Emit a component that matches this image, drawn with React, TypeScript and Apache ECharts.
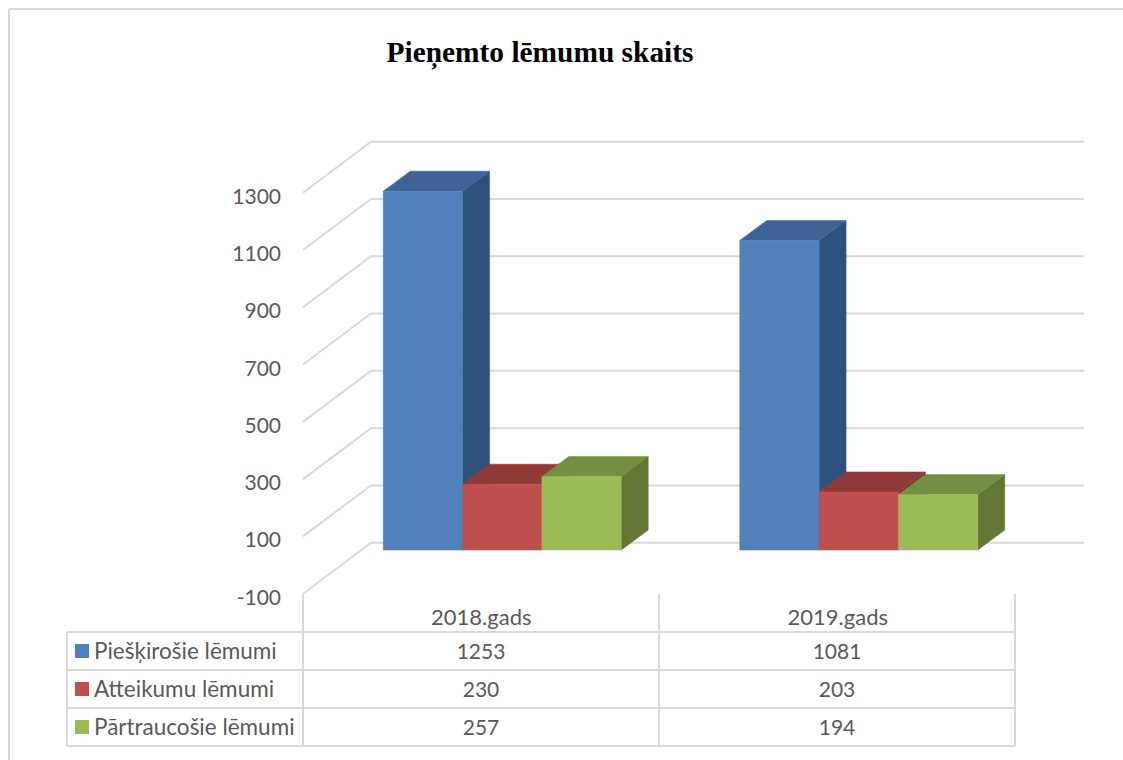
import React, { useEffect, useRef } from "react";
import * as echarts from "echarts";

const titleText = "Pieņemto lēmumu skaits";
const categories = ["2018.gads", "2019.gads"];
const yTicks = [-100, 100, 300, 500, 700, 900, 1100, 1300];
const seriesNames = ["Piešķirošie lēmumi", "Atteikumu lēmumi", "Pārtraucošie lēmumi"];
const granted = [1253, 1081];
const refused = [230, 203];
const stopped = [257, 194];
const seriesValues = [granted, refused, stopped];
const frontColors = ["#4f81bd", "#c0504d", "#9bbb59"];
const topColors = ["#3d6494", "#8f3a38", "#748f44"];
const sideColors = ["#30527a", "#7f3230", "#637634"];

const FONT = "Lato";
const GREY = "#d9d9d9";
const TEXT = "#595959";
const WALL_DX = 68;
const WALL_DY = -51;
const BAR_OFF_X = 21;
const BAR_OFF_Y = -15;
const BAR_DX = 27;
const BAR_DY = -20;
const BAR_W_RATIO = 0.2225;

const GRID_LEFT = 303;
const GRID_WIDTH = 713;
const GRID_RIGHT = 1015;
const GRID_TOP = 192.7;
const GRID_BOTTOM = 593.7;
const COL_MID = 659;
const ROW_YS = [632, 670, 708, 746];
const TABLE_LEFT = 67;

function line(x1: number, y1: number, x2: number, y2: number) {
  return {
    type: "line",
    silent: true,
    shape: { x1, y1, x2, y2 },
    style: { stroke: GREY, lineWidth: 2 },
  };
}

function tableText(text: string, x: number, y: number, align: string, size: number) {
  return {
    type: "text",
    silent: true,
    x,
    y,
    style: { text, fill: TEXT, font: `${size}px ${FONT}`, textAlign: align, textVerticalAlign: "middle" },
  };
}

function buildGraphic() {
  const els: any[] = [
    line(9, 9, 1123, 9),
    line(9, 9, 9, 760),
    line(GRID_LEFT, GRID_BOTTOM, GRID_LEFT, ROW_YS[3]),
    line(COL_MID, GRID_BOTTOM, COL_MID, ROW_YS[3]),
    line(GRID_RIGHT, GRID_BOTTOM, GRID_RIGHT, ROW_YS[3]),
    line(TABLE_LEFT, ROW_YS[0], TABLE_LEFT, ROW_YS[3]),
  ];
  ROW_YS.forEach((y) => els.push(line(TABLE_LEFT, y, GRID_RIGHT, y)));
  seriesNames.forEach((name, i) => {
    const mid = (ROW_YS[i] + ROW_YS[i + 1]) / 2 - 1;
    els.push({
      type: "rect",
      silent: true,
      shape: { x: 75, y: mid - 6, width: 14, height: 14 },
      style: { fill: frontColors[i] },
    });
    els.push(tableText(name, 94, mid, "left", 22.5));
    seriesValues[i].forEach((v, c) => {
      els.push(tableText(String(v), (c === 0 ? GRID_LEFT + COL_MID : COL_MID + GRID_RIGHT) / 2, mid, "center", 21));
    });
  });
  els.push({
    type: "text",
    silent: true,
    x: 540,
    y: 52,
    style: {
      text: titleText,
      fill: "#000000",
      font: `bold 29.4px "Liberation Serif"`,
      textAlign: "center",
      textVerticalAlign: "middle",
    },
  });
  return els;
}

function barSeries(idx: number) {
  return {
    type: "custom",
    name: seriesNames[idx],
    coordinateSystem: "cartesian2d",
    clip: false,
    z: 5 + idx,
    encode: { x: 0, y: 1 },
    data: seriesValues[idx].map((v, c) => [c, v]),
    renderItem: (_p: any, api: any) => {
      const band = api.size([1, 0])[0];
      const w = band * BAR_W_RATIO;
      const top = api.coord([api.value(0), api.value(1)]);
      const base = api.coord([api.value(0), 0]);
      const x0 = top[0] - 1.5 * w + idx * w + BAR_OFF_X;
      const x1 = x0 + w;
      const yT = top[1] + BAR_OFF_Y;
      const yB = base[1] + BAR_OFF_Y;
      const poly = (points: number[][], fill: string) => ({
        type: "polygon",
        shape: { points },
        style: { fill, stroke: fill, lineWidth: 0.5 },
      });
      return {
        type: "group",
        children: [
          poly([[x1, yT], [x1 + BAR_DX, yT + BAR_DY], [x1 + BAR_DX, yB + BAR_DY], [x1, yB]], sideColors[idx]),
          poly([[x0, yT], [x0 + BAR_DX, yT + BAR_DY], [x1 + BAR_DX, yT + BAR_DY], [x1, yT]], topColors[idx]),
          poly([[x0, yT], [x1, yT], [x1, yB], [x0, yB]], frontColors[idx]),
        ],
      };
    },
  };
}

const wallSeries = {
  type: "custom",
  name: "grid",
  coordinateSystem: "cartesian2d",
  clip: false,
  silent: true,
  z: 1,
  encode: { y: 0 },
  data: yTicks.map((t) => [t]),
  renderItem: (params: any, api: any) => {
    const y = api.coord([0, api.value(0)])[1];
    const r = params.coordSys;
    return {
      type: "polyline",
      shape: {
        points: [
          [r.x, y],
          [r.x + WALL_DX, y + WALL_DY],
          [r.x + r.width + WALL_DX, y + WALL_DY],
        ],
      },
      style: { fill: "none", stroke: GREY, lineWidth: 2 },
    };
  },
};

export default function App() {
  const ref = useRef<HTMLDivElement>(null);
  useEffect(() => {
    const chart = echarts.init(ref.current!, undefined, { renderer: "svg" });
    chart.setOption({
      animation: false,
      backgroundColor: "#ffffff",
      grid: {
        left: GRID_LEFT,
        top: GRID_TOP,
        width: GRID_WIDTH,
        height: GRID_BOTTOM - GRID_TOP,
        containLabel: false,
      },
      xAxis: {
        type: "category",
        data: categories,
        axisLine: { show: false },
        axisTick: { show: false },
        axisLabel: { color: TEXT, fontFamily: FONT, fontSize: 22, margin: 12 },
      },
      yAxis: {
        type: "value",
        min: -100,
        max: 1300,
        splitLine: { show: false },
        axisLine: { show: false },
        axisTick: { show: false },
        axisLabel: {
          color: TEXT,
          fontFamily: FONT,
          fontSize: 21,
          margin: 22,
          verticalAlign: "top",
          lineHeight: 5,
          customValues: yTicks,
          formatter: (v: number) => String(v),
        },
      },
      series: [wallSeries, barSeries(0), barSeries(1), barSeries(2)],
      graphic: buildGraphic(),
    });
    return () => chart.dispose();
  }, []);
  return <div ref={ref} style={{ position: "fixed", left: 0, top: 0, width: 1123, height: 760 }} />;
}
